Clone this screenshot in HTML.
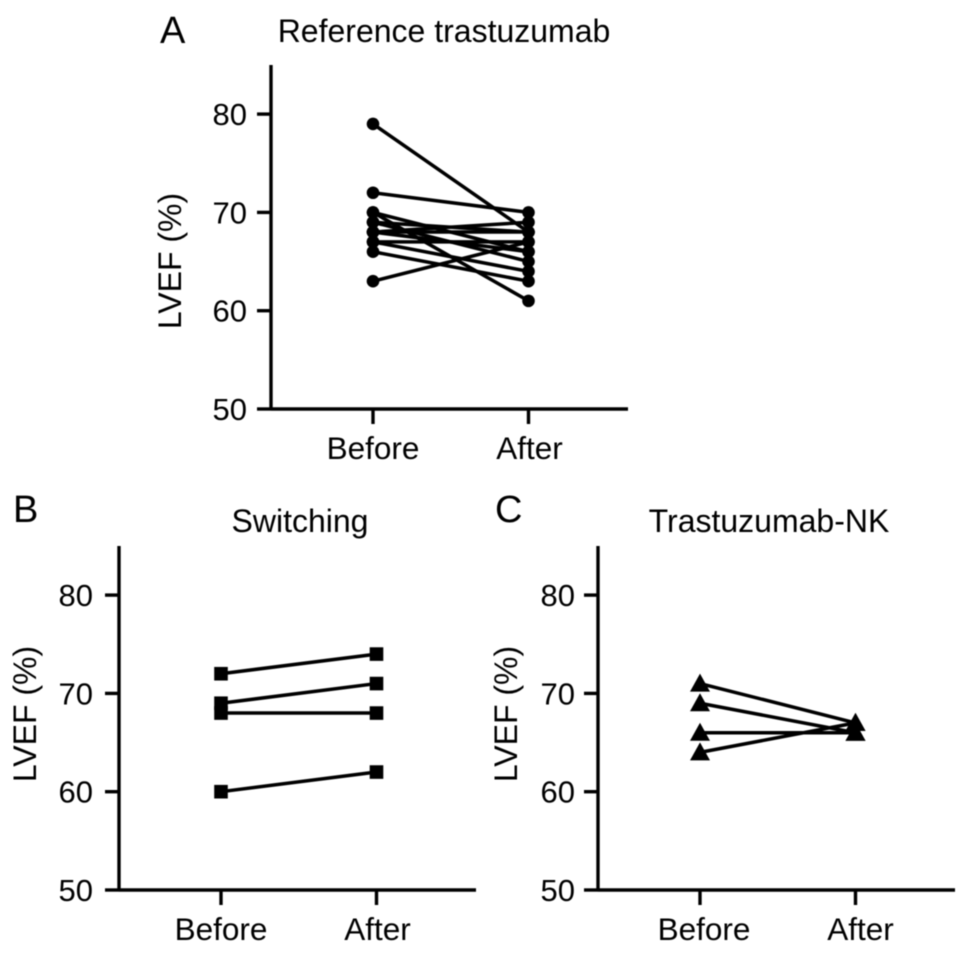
<!DOCTYPE html>
<html>
<head>
<meta charset="utf-8">
<style>
html,body{margin:0;padding:0;background:#fff;}
svg{display:block;}
text{font-family:"Liberation Sans",sans-serif;fill:#000;}
</style>
</head>
<body>
<svg id="fig" width="969" height="953" viewBox="0 0 969 953" xmlns="http://www.w3.org/2000/svg" style="filter:blur(0.55px)"></svg>
<script>
const categories = ["Before", "After"];
const yTicks = [50, 60, 70, 80];
const yLabel = "LVEF (%)";
const seriesABefore = [79, 72, 70, 70, 69, 69, 68, 68, 68, 67, 67, 66, 63];
const seriesAAfter = [68, 70, 61, 66, 68, 65, 69, 68, 66, 67, 64, 63, 67];
const seriesBBefore = [72, 69, 68, 60];
const seriesBAfter = [74, 71, 68, 62];
const seriesCBefore = [71, 69, 66, 64];
const seriesCAfter = [67, 66, 66, 67];

const NS = "http://www.w3.org/2000/svg";
const fig = document.getElementById("fig");
function mk(tag, attrs, parent, txt){
  const el = document.createElementNS(NS, tag);
  for (const k in attrs) el.setAttribute(k, attrs[k]);
  if (txt !== undefined) el.textContent = txt;
  parent.appendChild(el);
  return el;
}
function drawPanel(p, before, after){
  const g = mk("g", {}, fig);
  
  
  const yScale = v => p.y50 - (v - 50) * 9.83;
  const xScale = i => p.axisX + 102 + i * 155.5;
  const yAxis = mk("line", {x1:p.axisX, x2:p.axisX, y1:p.y50 - 344, y2:p.y50 + 1.5, stroke:"#000", "stroke-width":3.4}, g);
  
  
  const xAxis = mk("line", {x1:p.axisX, x2:p.axisX + 357, y1:p.y50, y2:p.y50, stroke:"#000", "stroke-width":3.4}, g);
  
  
  yTicks.forEach(t => {
    const tick = mk("line", {x1:p.axisX - 14, x2:p.axisX, y1:yScale(t), y2:yScale(t), stroke:"#000", "stroke-width":3.4}, g);
    
    
    const lab = mk("text", {x:p.axisX - p.tickOff, y:yScale(t) + 11, "text-anchor":"end", "font-size":31}, g, String(t));
    
    
  });
  categories.forEach((c, i) => {
    const tick = mk("line", {x1:xScale(i), x2:xScale(i), y1:p.y50, y2:p.y50 + 15, stroke:"#000", "stroke-width":3.4}, g);
    
    
    const lab = mk("text", {x:xScale(i) + p.labelShift + (i === 0 ? 0 : 1), y:p.y50 + 50, "text-anchor":"middle", "font-size":31.5}, g, c);
    
    
  });
  const yt = mk("text", {transform:"translate(" + p.yTitleX + " " + p.yTitleY + ") rotate(-90)", "text-anchor":"middle", "font-size":32}, g, yLabel);
  
  
  const title = mk("text", {x:p.titleX, y:p.titleY, "text-anchor":"middle", "font-size":32}, g, p.title);
  
  
  const letter = mk("text", {x:p.letterX, y:p.letterY, "font-size":38}, g, p.id);
  
  
  before.forEach((b, i) => {
    const line = mk("line", {x1:xScale(0), y1:yScale(b), x2:xScale(1), y2:yScale(after[i]), stroke:"#000", "stroke-width":3.5}, g);
    
    
  });
  before.forEach((b, i) => {
    [b, after[i]].forEach((v, j) => {
      const x = xScale(j), y = yScale(v);
      let m;
      if (p.marker === "circle") m = mk("circle", {cx:x, cy:y, r:6.3, fill:"#000"}, g);
      else if (p.marker === "square") m = mk("rect", {x:x - 6.8, y:y - 6.8, width:13.6, height:13.6, fill:"#000"}, g);
      else m = mk("polygon", {points:(x) + "," + (y - 10) + " " + (x + 10) + "," + (y + 8) + " " + (x - 10) + "," + (y + 8), fill:"#000"}, g);
      
      
    });
  });
}
drawPanel({id:"A", axisX:271, y50:409, tickOff:24, labelShift:0, yTitleX:181, yTitleY:261, title:"Reference trastuzumab", titleX:444, titleY:42, letterX:160, letterY:43, marker:"circle"}, seriesABefore, seriesAAfter);
drawPanel({id:"B", axisX:119, y50:890, tickOff:26, labelShift:0, yTitleX:36, yTitleY:714, title:"Switching", titleX:300, titleY:532, letterX:13, letterY:522, marker:"square"}, seriesBBefore, seriesBAfter);
drawPanel({id:"C", axisX:598, y50:890, tickOff:23, labelShift:4, yTitleX:517, yTitleY:714, title:"Trastuzumab-NK", titleX:769, titleY:532, letterX:495, letterY:522, marker:"triangle"}, seriesCBefore, seriesCAfter);
</script>
</body>
</html>
